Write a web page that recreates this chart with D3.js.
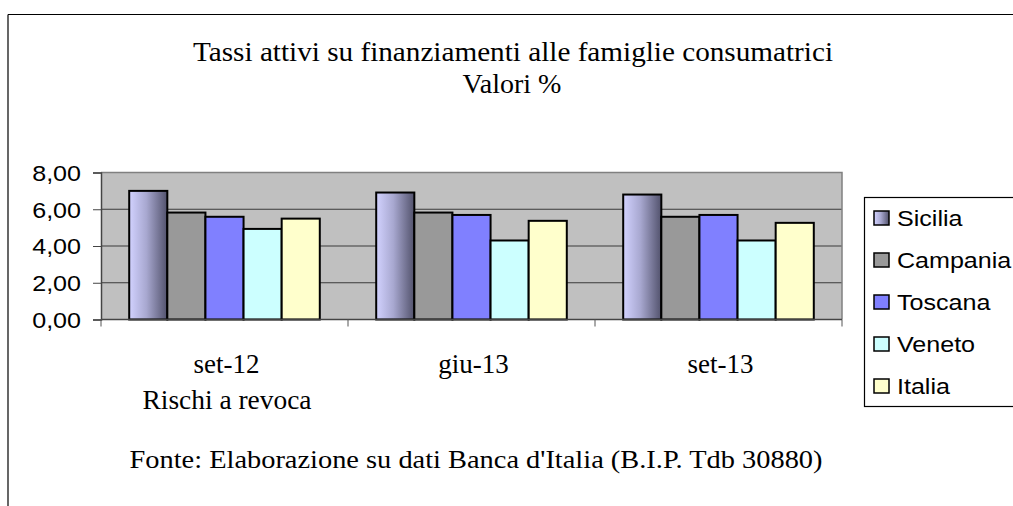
<!DOCTYPE html>
<html>
<head>
<meta charset="utf-8">
<script src="https://cdn.jsdelivr.net/npm/d3@7"></script>
<style>
  body { margin: 0; background: #fff; }
  svg { display: block; }
</style>
</head>
<body>
<svg width="1013" height="506"></svg>
<script>
// chart data
var categories = ["set-12", "giu-13", "set-13"];
var series = ["Sicilia", "Campania", "Toscana", "Veneto", "Italia"];
var sicilia  = [7.00, 6.91, 6.80];
var campania = [5.82, 5.82, 5.59];
var toscana  = [5.59, 5.69, 5.69];
var veneto   = [4.93, 4.30, 4.30];
var italia   = [5.49, 5.37, 5.26];
var yTicks = [0, 2, 4, 6, 8];

var values = [sicilia, campania, toscana, veneto, italia];
var fills = ["url(#sicGrad)", "#999999", "#8080ff", "#ccffff", "#ffffcc"];

var svg = d3.select("svg");
var sans = "'Liberation Sans', Arial, sans-serif";
var serif = "'Liberation Serif', 'Times New Roman', serif";
var stretch = 1.14; // the original is a bit wider than tall

// gradient for Sicilia bars (light to dark, left to right)
var defs = svg.append("defs");
var grad = defs.append("linearGradient").attr("id", "sicGrad")
  .attr("x1", "0%").attr("x2", "100%").attr("y1", "0%").attr("y2", "0%");
grad.append("stop").attr("offset", "0%").attr("stop-color", "#d2d2ff");
grad.append("stop").attr("offset", "45%").attr("stop-color", "#a8a8d0");
grad.append("stop").attr("offset", "100%").attr("stop-color", "#52526c");

// outer frame (only top and left show)
svg.append("line").attr("x1", 8).attr("y1", 14.5).attr("x2", 1013).attr("y2", 14.5)
  .attr("stroke", "#000").attr("stroke-width", 1.2);
svg.append("line").attr("x1", 8).attr("y1", 14.5).attr("x2", 8).attr("y2", 506)
  .attr("stroke", "#000").attr("stroke-width", 1.2);

// title
svg.append("text").attr("x", 513).attr("y", 61).attr("text-anchor", "middle")
  .attr("font-family", serif).attr("font-size", 28)
  .attr("textLength", 640).attr("lengthAdjust", "spacingAndGlyphs")
  .text("Tassi attivi su finanziamenti alle famiglie consumatrici");
svg.append("text").attr("x", 512).attr("y", 93).attr("text-anchor", "middle")
  .attr("font-family", serif).attr("font-size", 28)
  .text("Valori %");

var plotL = 101, plotR = 842, plotT = 172.5, plotB = 319.5;

var x0 = d3.scaleBand().domain(categories).range([plotL, plotR]);
var x1 = d3.scaleBand().domain(series).range([0, x0.bandwidth()]).paddingOuter(0.74);
var y = d3.scaleLinear().domain([0, 8]).range([plotB, plotT]);

// plot background
svg.append("rect").attr("x", plotL).attr("y", plotT)
  .attr("width", plotR - plotL).attr("height", plotB - plotT)
  .attr("fill", "#c0c0c0");

// gridlines
svg.append("g").selectAll("line").data(yTicks.slice(1, -1)).enter().append("line")
  .attr("x1", plotL).attr("x2", plotR)
  .attr("y1", function(d) { return y(d); }).attr("y2", function(d) { return y(d); })
  .attr("stroke", "#3a3a3a").attr("stroke-width", 1);

// plot border (top and right)
svg.append("path")
  .attr("d", "M" + plotL + "," + plotT + "H" + plotR + "V" + plotB)
  .attr("fill", "none").attr("stroke", "#808080").attr("stroke-width", 1.5);

// bars
var groups = svg.append("g").selectAll("g").data(categories).enter().append("g")
  .attr("transform", function(d) { return "translate(" + x0(d) + ",0)"; });

groups.selectAll("rect")
  .data(function(c, ci) {
    return series.map(function(s, si) { return { s: s, v: values[si][ci], i: si }; });
  })
  .enter().append("rect")
  .attr("x", function(d) { return x1(d.s); })
  .attr("y", function(d) { return y(d.v); })
  .attr("width", x1.bandwidth())
  .attr("height", function(d) { return plotB - y(d.v); })
  .attr("fill", function(d) { return fills[d.i]; })
  .attr("stroke", "#000").attr("stroke-width", 2);

// y axis
var yAxis = svg.append("g").attr("transform", "translate(" + plotL + ",0)")
  .call(d3.axisLeft(y).tickValues(yTicks).tickSize(8).tickFormat(function(d) {
    return d3.format(".2f")(d).replace(".", ",");
  }));
yAxis.select(".domain").attr("stroke", "#444").attr("stroke-width", 1.5);
yAxis.selectAll(".tick line").attr("stroke", "#444");
yAxis.selectAll(".tick text").remove();
yAxis.selectAll(".tick").append("text")
  .attr("transform", "translate(-20,0) scale(" + stretch + ",1)")
  .attr("text-anchor", "end").attr("dy", "0.36em")
  .attr("font-family", sans).attr("font-size", 22).attr("fill", "#000")
  .text(function(d) { return d3.format(".2f")(d).replace(".", ","); });

// x axis
var xAxis = svg.append("g").attr("transform", "translate(0," + plotB + ")");
xAxis.append("line").attr("x1", plotL).attr("x2", plotR)
  .attr("stroke", "#444").attr("stroke-width", 1.5);
xAxis.selectAll(".xt").data(categories.slice(1).concat(["_end"])).enter().append("line")
  .attr("x1", function(d) { return d === "_end" ? plotR : x0(d); })
  .attr("x2", function(d) { return d === "_end" ? plotR : x0(d); })
  .attr("y1", 0).attr("y2", 7).attr("stroke", "#555");
xAxis.append("line").attr("x1", plotL).attr("x2", plotL).attr("y1", 0).attr("y2", 7).attr("stroke", "#555");

svg.append("g").selectAll("text").data(categories).enter().append("text")
  .attr("x", function(d) { return x0(d) + x0.bandwidth() / 2 + 2; })
  .attr("y", 373).attr("text-anchor", "middle")
  .attr("font-family", serif).attr("font-size", 27)
  .text(function(d) { return d; });

svg.append("text").attr("x", 227).attr("y", 409).attr("text-anchor", "middle")
  .attr("font-family", serif).attr("font-size", 27)
  .attr("textLength", 169).attr("lengthAdjust", "spacingAndGlyphs")
  .text("Rischi a revoca");

// source note
svg.append("text").attr("x", 476).attr("y", 468).attr("text-anchor", "middle")
  .attr("font-family", serif).attr("font-size", 25)
  .attr("textLength", 693).attr("lengthAdjust", "spacingAndGlyphs")
  .text("Fonte: Elaborazione su dati Banca d'Italia (B.I.P. Tdb 30880)");

// legend
var legend = svg.append("g");
legend.append("rect").attr("x", 864.5).attr("y", 197.5).attr("width", 160).attr("height", 209)
  .attr("fill", "#fff").attr("stroke", "#000").attr("stroke-width", 1.2);

var ly = d3.scalePoint().domain(series).range([218, 386]);
var items = legend.selectAll(".item").data(series).enter().append("g")
  .attr("transform", function(d) { return "translate(0," + ly(d) + ")"; });
items.append("rect").attr("x", 874).attr("y", -7).attr("width", 15).attr("height", 14)
  .attr("fill", function(d, i) { return fills[i]; })
  .attr("stroke", "#000").attr("stroke-width", 1.5);
items.append("text")
  .attr("transform", "translate(897,0) scale(" + stretch + ",1)")
  .attr("dy", "0.36em")
  .attr("font-family", sans).attr("font-size", 22)
  .text(function(d) { return d; });
</script>
</body>
</html>
